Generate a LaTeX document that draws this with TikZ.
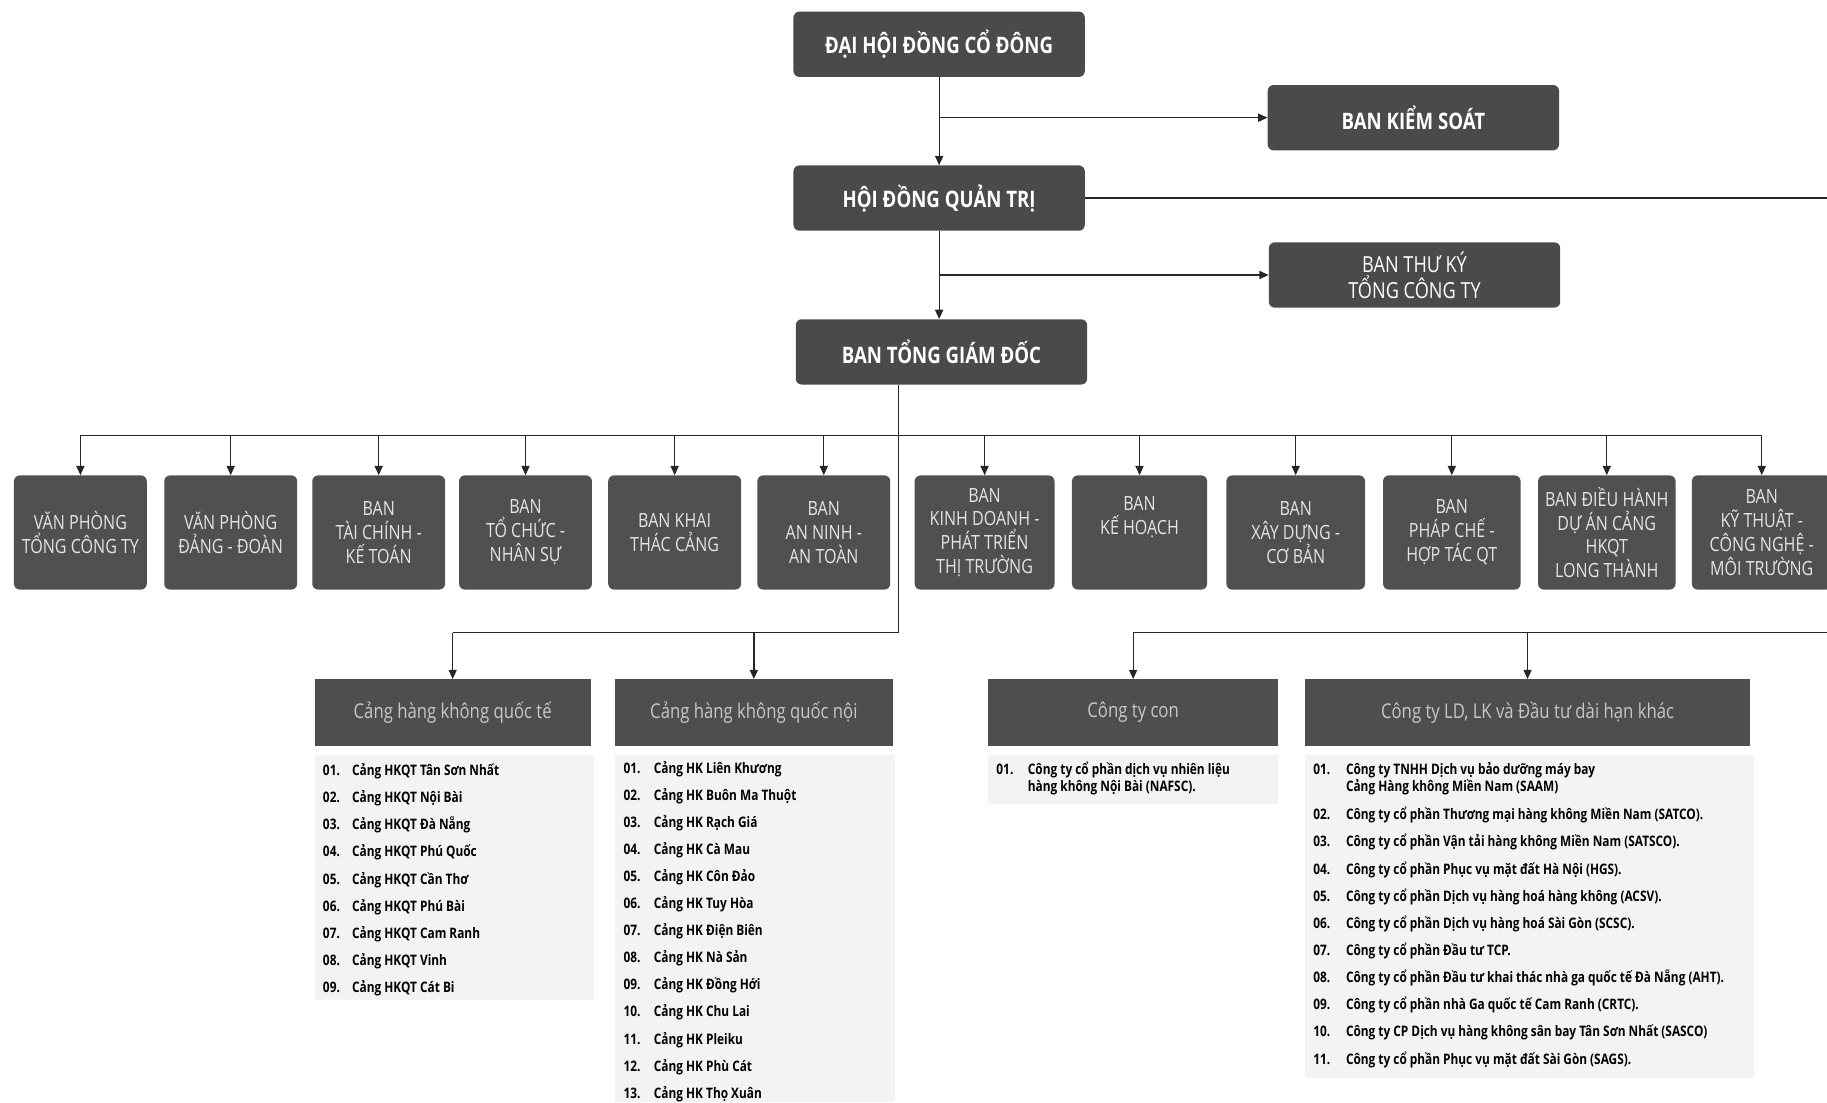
\documentclass[tikz,border=0pt]{standalone}
\usepackage{fontspec}
\setmainfont{Open Sans}[FakeStretch=0.82]
\usetikzlibrary{arrows.meta}
\definecolor{boxtop}{HTML}{4A4A4A}
\definecolor{boxdep}{HTML}{505050}
\definecolor{boxhead}{HTML}{4E4E4E}
\definecolor{listbg}{HTML}{F3F3F3}
\definecolor{deptext}{HTML}{E4E4E4}
\definecolor{headtext}{HTML}{C8C8C8}
\tikzset{
 topbox/.style={fill=boxtop, rounded corners=5pt, minimum width=250pt, minimum height=56pt, text=white, font=\fontsize{19.5}{22}\selectfont\bfseries, align=center, inner sep=0pt},
 depbox/.style={fill=boxdep, rounded corners=5pt, minimum width=114pt, minimum height=98pt, text=deptext, font=\fontsize{16.8}{20.5}\selectfont, align=center, inner sep=0pt},
 headbox/.style={fill=boxhead, minimum height=57pt, text=headtext, font=\fontsize{17.5}{20}\selectfont, inner sep=0pt},
 item/.style={anchor=west, inner sep=0pt, text height=10pt, text depth=3pt, font=\fontsize{12.4}{15}\selectfont\bfseries, text=black},
 conn/.style={draw=black!85, line width=1.1pt},
 arr/.style={conn, -{Triangle[length=8pt,width=7pt]}},
}
\begin{document}
\begin{tikzpicture}[x=1pt,y=-1pt]
\useasboundingbox (0,0) rectangle (1568,946);
% top chain
\node[topbox] (dh) at (806,38) {ĐẠI HỘI ĐỒNG CỔ ĐÔNG};
\node[topbox] (bks) at (1213,101) {BAN KIỂM SOÁT};
\node[topbox] (hd) at (806,170) {HỘI ĐỒNG QUẢN TRỊ};
\node[topbox, font=\fontsize{19}{22}\selectfont] (btk) at (1214,236) {BAN THƯ KÝ\\TỔNG CÔNG TY};
\node[topbox] (btgd) at (808,302) {BAN TỔNG GIÁM ĐỐC};
\coordinate (re1) at (1568,170);
\coordinate (bus) at (771,374);
\coordinate (t1) at (771,543);
\coordinate (re2) at (1568,543);
\draw[arr] (dh.south) -- (hd.north);
\draw[arr] (hd.south) -- (btgd.north -| hd.south);
\draw[arr] (dh.south |- bks.west) -- (bks.west);
\draw[arr] (hd.south |- btk.west) -- (btk.west);
\draw[conn] (hd.east) -- (re1);
% departments
\node[depbox] (d1) at (69,457) {VĂN PHÒNG\\TỔNG CÔNG TY};
\node[depbox] (d2) at (198,457) {VĂN PHÒNG\\ĐẢNG - ĐOÀN};
\node[depbox] (d3) at (325,457) {BAN\\TÀI CHÍNH -\\KẾ TOÁN};
\node[depbox] (d4) at (451,457) {BAN\\TỔ CHỨC -\\NHÂN SỰ};
\node[depbox] (d5) at (579,457) {BAN KHAI\\THÁC CẢNG};
\node[depbox] (d6) at (707,457) {BAN\\AN NINH -\\AN TOÀN};
\node[depbox, minimum width=120pt] (d7) at (845,457) {BAN\\KINH DOANH -\\PHÁT TRIỂN\\THỊ TRƯỜNG};
\node[depbox, minimum width=116pt] (d8) at (978,457) {BAN\\KẾ HOẠCH\\[8pt]};
\node[depbox, minimum width=119pt] (d9) at (1112,457) {BAN\\XÂY DỰNG -\\CƠ BẢN};
\node[depbox, minimum width=118pt] (d10) at (1246,457) {BAN\\PHÁP CHẾ -\\HỢP TÁC QT};
\node[depbox, minimum width=118pt] (d11) at (1379,457) {BAN ĐIỀU HÀNH\\DỰ ÁN CẢNG\\HKQT\\LONG THÀNH};
\node[depbox, minimum width=120pt] (d12) at (1512,457) {BAN\\KỸ THUẬT -\\CÔNG NGHỆ -\\MÔI TRƯỜNG};
\draw[conn] (btgd.south -| t1) -- (t1);
\draw[conn] (d1.north |- bus) -- (d12.north |- bus);
\foreach \k in {1,...,12} { \draw[arr] (d\k.north |- bus) -- (d\k.north); }
% lower groups
\node[headbox, minimum width=237pt] (ha) at (388.5,611.5) {Cảng hàng không quốc tế};
\node[headbox, minimum width=238pt] (hb) at (647,611.5) {Cảng hàng không quốc nội};
\node[headbox, minimum width=249pt] (hc) at (972.5,611.5) {Công ty con};
\node[headbox, minimum width=382pt] (hx) at (1311,611.5) {Công ty LD, LK và Đầu tư dài hạn khác};
\draw[conn] (t1) -- (ha.north |- t1);
\draw[arr] (ha.north |- t1) -- (ha.north);
\draw[arr] (hb.north |- t1) -- (hb.north);
\draw[conn] (re2) -- (hc.north |- re2);
\draw[arr] (hc.north |- re2) -- (hc.north);
\draw[arr] (hx.north |- re2) -- (hx.north);
% list backgrounds
\fill[listbg] (270,648) rectangle (510,858);
\fill[listbg] (528,648) rectangle (768,946);
\fill[listbg] (848,648) rectangle (1097,690);
\fill[listbg] (1120,648) rectangle (1505,925);
% list A
\foreach \n/\t [count=\i] in {01./Cảng HKQT Tân Sơn Nhất,02./Cảng HKQT Nội Bài,03./Cảng HKQT Đà Nẵng,04./Cảng HKQT Phú Quốc,05./Cảng HKQT Cần Thơ,06./Cảng HKQT Phú Bài,07./Cảng HKQT Cam Ranh,08./Cảng HKQT Vinh,09./Cảng HKQT Cát Bi} {
 \node[item] (an\i) at (277,{662+23.3*(\i-1)}) {\n};
 \node[item] (at\i) at (302,{662+23.3*(\i-1)}) {\t};
}
% list B
\foreach \n/\t [count=\i] in {01./Cảng HK Liên Khương,02./Cảng HK Buôn Ma Thuột,03./Cảng HK Rạch Giá,04./Cảng HK Cà Mau,05./Cảng HK Côn Đảo,06./Cảng HK Tuy Hòa,07./Cảng HK Điện Biên,08./Cảng HK Nà Sản,09./Cảng HK Đồng Hới,10./Cảng HK Chu Lai,11./Cảng HK Pleiku,12./Cảng HK Phù Cát,13./Cảng HK Thọ Xuân} {
 \node[item] (bn\i) at (535,{660+23.25*(\i-1)}) {\n};
 \node[item] (bt\i) at (561,{660+23.25*(\i-1)}) {\t};
}
% list C
\node[item] (cn1) at (855,661) {01.};
\node[item] (ct1) at (882,661) {Công ty cổ phần dịch vụ nhiên liệu};
\node[item] (ct1b) at (882,676) {hàng không Nội Bài (NAFSC).};
% list D
\node[item] (xn1) at (1127,661) {01.};
\node[item] (xt1) at (1155,661) {Công ty TNHH Dịch vụ bảo dưỡng máy bay};
\node[item] (xt1b) at (1155,676) {Cảng Hàng không Miền Nam (SAAM)};
\foreach \n/\t [count=\i from 2] in {02./Công ty cổ phần Thương mại hàng không Miền Nam (SATCO).,03./Công ty cổ phần Vận tải hàng không Miền Nam (SATSCO).,04./Công ty cổ phần Phục vụ mặt đất Hà Nội (HGS).,05./Công ty cổ phần Dịch vụ hàng hoá hàng không (ACSV).,06./Công ty cổ phần Dịch vụ hàng hoá Sài Gòn (SCSC).,07./Công ty cổ phần Đầu tư TCP.,08./Công ty cổ phần Đầu tư khai thác nhà ga quốc tế Đà Nẵng (AHT).,09./Công ty cổ phần nhà Ga quốc tế Cam Ranh (CRTC).,10./Công ty CP Dịch vụ hàng không sân bay Tân Sơn Nhất (SASCO),11./Công ty cổ phần Phục vụ mặt đất Sài Gòn (SAGS).} {
 \node[item] (xn\i) at (1127,{700+23.3*(\i-2)}) {\n};
 \node[item] (xt\i) at (1155,{700+23.3*(\i-2)}) {\t};
}
\end{tikzpicture}
\end{document}
